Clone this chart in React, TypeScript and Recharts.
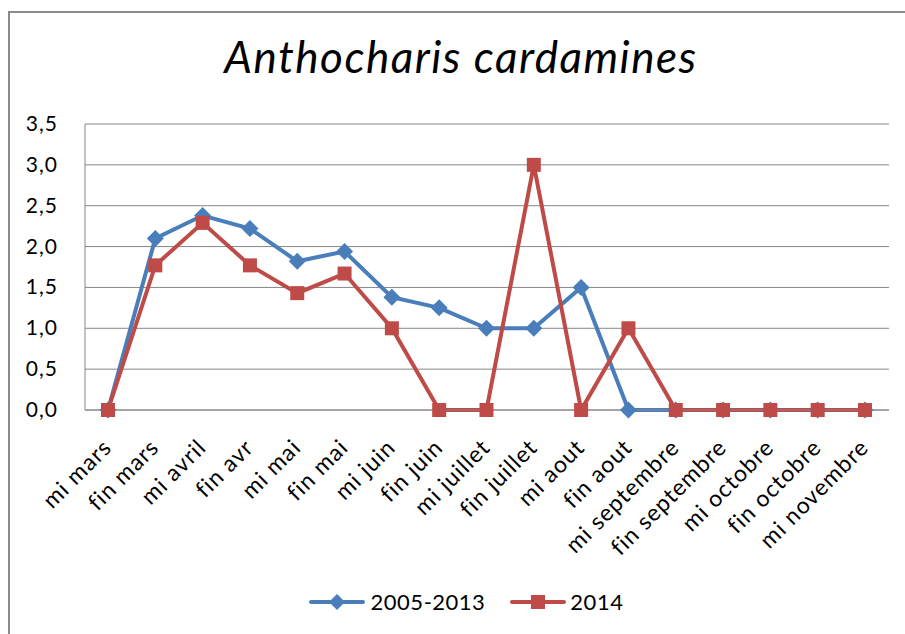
import React from 'react'
import { LineChart, Line, XAxis, YAxis, CartesianGrid } from 'recharts'

const periods = [
  'mi mars', 'fin mars', 'mi avril', 'fin avr', 'mi mai', 'fin mai', 'mi juin', 'fin juin',
  'mi juillet', 'fin juillet', 'mi aout', 'fin aout', 'mi septembre', 'fin septembre',
  'mi octobre', 'fin octobre', 'mi novembre',
]

const avg2005to2013 = [0, 2.1, 2.38, 2.22, 1.82, 1.94, 1.38, 1.25, 1.0, 1.0, 1.5, 0, 0, 0, 0, 0, 0]
const year2014 = [0, 1.77, 2.29, 1.77, 1.43, 1.67, 1.0, 0, 0, 3.0, 0, 1.0, 0, 0, 0, 0, 0]
const yTicks = [0, 0.5, 1, 1.5, 2, 2.5, 3, 3.5]

const BLUE = '#4A7EBB'
const RED = '#BE4B48'
const FONT = 'Lato, "Open Sans", sans-serif'

const data = periods.map((p, i) => ({
  period: p,
  a: avg2005to2013[i],
  b: year2014[i],
}))

const Diamond = (props: any) => {
  const { cx, cy } = props
  if (cx == null || cy == null) return null
  const r = 8.5
  return <path d={`M${cx},${cy - r}L${cx + r},${cy}L${cx},${cy + r}L${cx - r},${cy}Z`} fill={BLUE} />
}

const Square = (props: any) => {
  const { cx, cy } = props
  if (cx == null || cy == null) return null
  const s = 7
  return <rect x={cx - s} y={cy - s} width={s * 2} height={s * 2} fill={RED} />
}

const XTick = (props: any) => {
  const { x, y, payload } = props
  const ax = x + 5
  const ay = y + 31
  return (
    <text
      x={ax}
      y={ay}
      transform={`rotate(-45, ${ax}, ${ay})`}
      textAnchor="end"
      fontSize={23}
      letterSpacing={1}
      fill="#000"
      fontFamily={FONT}
    >
      {payload.value}
    </text>
  )
}

const YTick = (props: any) => {
  const { x, y, payload } = props
  return (
    <text
      x={x}
      y={y}
      dy={7}
      textAnchor="end"
      fontSize={21}
      letterSpacing={1}
      fill="#000"
      fontFamily={FONT}
    >
      {Number(payload.value).toFixed(1).replace('.', ',')}
    </text>
  )
}

const LegendBlock = () => (
  <div
    style={{
      position: 'absolute',
      left: 0,
      top: 588,
      width: 932,
      display: 'flex',
      justifyContent: 'center',
      alignItems: 'center',
      fontFamily: FONT,
      fontSize: 22,
      letterSpacing: 0.5,
      color: '#000',
    }}
  >
    <svg width={56} height={20}>
      <line x1={2} y1={10} x2={54} y2={10} stroke={BLUE} strokeWidth={4} strokeLinecap="round" />
      <path d="M28,2L36,10L28,18L20,10Z" fill={BLUE} />
    </svg>
    <span style={{ marginLeft: 6, marginRight: 25 }}>2005-2013</span>
    <svg width={56} height={20}>
      <line x1={2} y1={10} x2={54} y2={10} stroke={RED} strokeWidth={4} strokeLinecap="round" />
      <rect x={21} y={3} width={14} height={14} fill={RED} />
    </svg>
    <span style={{ marginLeft: 4 }}>2014</span>
  </div>
)

export default function App() {
  return (
    <div style={{ position: 'absolute', left: 0, top: 0, width: 905, height: 634, background: '#fff', overflow: 'hidden' }}>
      <div
        style={{
          position: 'absolute',
          left: 8,
          top: 11,
          width: 920,
          height: 640,
          borderLeft: '2px solid #8a8a8a',
          borderTop: '2px solid #8a8a8a',
        }}
      />
      <div
        style={{
          position: 'absolute',
          left: 0,
          top: 30,
          width: 922,
          textAlign: 'center',
          fontFamily: FONT,
          fontStyle: 'italic',
          fontSize: 44,
          letterSpacing: 1.5,
          color: '#000',
        }}
      >
        Anthocharis cardamines
      </div>
      <div style={{ position: 'absolute', left: 0, top: 0 }}>
        <LineChart width={905} height={634} data={data} margin={{ top: 124, right: 16, left: 0, bottom: 0 }}>
          <CartesianGrid vertical={false} stroke="#868686" strokeWidth={1} />
          <XAxis
            dataKey="period"
            interval={0}
            padding={{ left: 23, right: 24 }}
            height={224}
            tick={<XTick />}
            tickLine={false}
            axisLine={{ stroke: '#868686' }}
          />
          <YAxis
            domain={[0, 3.5]}
            ticks={yTicks}
            width={85}
            tickSize={0}
            tickMargin={27}
            tickLine={false}
            axisLine={{ stroke: '#868686' }}
            tick={<YTick />}
          />
          <Line
            dataKey="a"
            name="2005-2013"
            stroke={BLUE}
            strokeWidth={4}
            dot={<Diamond />}
            activeDot={false}
            isAnimationActive={false}
          />
          <Line
            dataKey="b"
            name="2014"
            stroke={RED}
            strokeWidth={4}
            dot={<Square />}
            activeDot={false}
            isAnimationActive={false}
          />
        </LineChart>
      </div>
      <LegendBlock />
    </div>
  )
}
